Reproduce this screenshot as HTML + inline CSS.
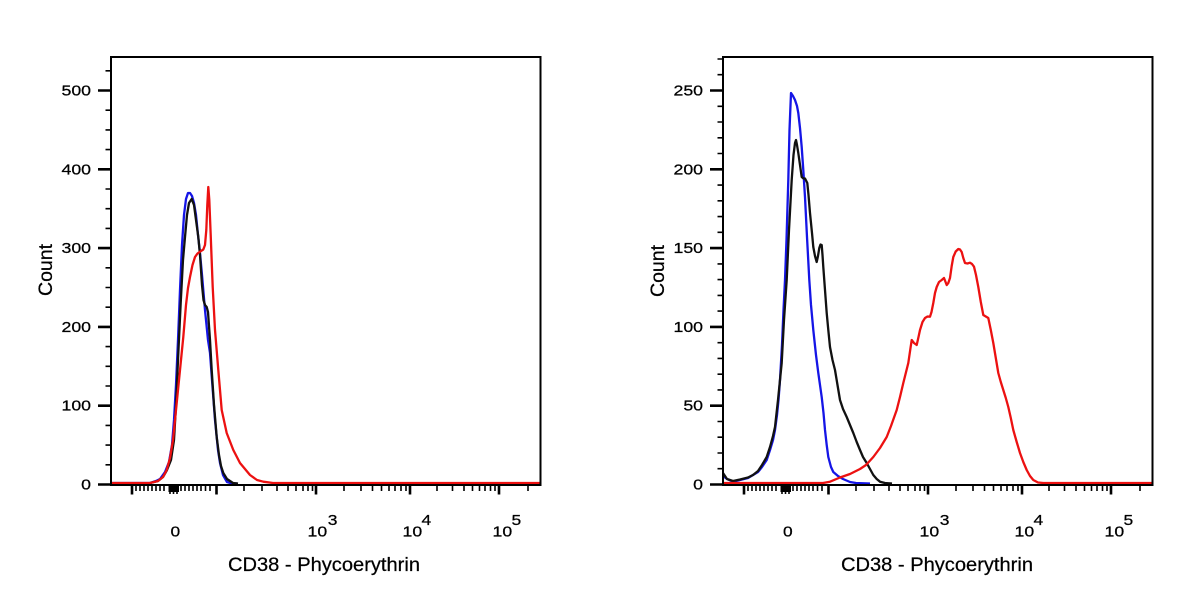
<!DOCTYPE html>
<html>
<head>
<meta charset="utf-8">
<style>
  html, body { margin: 0; padding: 0; background: #ffffff; }
  body { width: 1200px; height: 600px; overflow: hidden; }
  svg { display: block; }
  text { font-family: "Liberation Sans", Arial, sans-serif; fill: #000; stroke: #000; stroke-width: 0.25; }
</style>
</head>
<body>
<svg width="1200" height="600" viewBox="0 0 1200 600" xmlns="http://www.w3.org/2000/svg">
  <rect x="0" y="0" width="1200" height="600" fill="#fff"/>

  <!-- ================= LEFT CHART ================= -->
  <g id="leftchart">
    <!-- curves -->
    <polyline fill="none" stroke="#1515e6" stroke-width="2.3" stroke-linejoin="round"
      points="111,483 150,483 156,481 160,479 165,472 169,462 172,445 174,420 176,385 178,340 180,290 182,245 184,215 186,199 188,193 190,193 192,196 194,203 196,215 198,235 200,253 202,275 205,310 208,340 210,353 212,380 215,420 218,450 220,463 223,475 227,482 232,483.5 237,483.5"/>
    <polyline fill="none" stroke="#111" stroke-width="2.3" stroke-linejoin="round"
      points="150,483 158,481 163,477 167,470 171,460 174,440 176,405 178,360 180.7,303 183,260 185,237 187,215 189,203 191.7,199 194,205 196,220 198.3,237 200,255 202,285 203.5,300 205,305 206.7,307 208,312 210,340 211.7,370 214,405 216.7,437 219,455 221,466 223.3,473 227,479 233,483 238,483.5"/>
    <polyline fill="none" stroke="#ec1111" stroke-width="2.3" stroke-linejoin="round"
      points="111,483 150,483 158,481 163,477 166.7,470 170,458 173,440 176.7,403 180,370 183.3,337 186,305 188,288 190,277 192.5,265 195,257 197.5,253.5 200,251.7 203.3,249.5 205,245 206.3,230 207.3,205 208.3,187 209.3,200 210.7,235 212.7,287 215,330 218.3,370 221.7,410 226.7,433 233.3,450 240,463 250,475 257,480 263.3,481.7 273,483 541,483"/>

    <!-- frame -->
    <path d="M111,56 V486 M110,57 H541.5 M540.5,56 V486 M110,485 H541.5" stroke="#000" stroke-width="2" fill="none"/>

    <!-- y ticks major -->
    <path d="M98,484.5 H111 M98,405.7 H111 M98,326.9 H111 M98,248.1 H111 M98,169.3 H111 M98,90.5 H111" stroke="#000" stroke-width="2.6"/>
    <!-- y ticks minor (every 25) -->
    <path d="M105.5,464.8 H111 M105.5,445.1 H111 M105.5,425.4 H111
             M105.5,386 H111 M105.5,366.3 H111 M105.5,346.6 H111
             M105.5,307.2 H111 M105.5,287.5 H111 M105.5,267.8 H111
             M105.5,228.4 H111 M105.5,208.7 H111 M105.5,189 H111
             M105.5,149.6 H111 M105.5,129.9 H111 M105.5,110.2 H111
             M105.5,70.8 H111" stroke="#000" stroke-width="1.6"/>

    <!-- x ticks minor -->
    <path d="M136,485 V491 M140,485 V491 M144,485 V491 M148,485 V491 M152,485 V491 M156,485 V491 M160,485 V491 M164,485 V491
             M181,485 V491 M185,485 V491 M189,485 V491 M193,485 V491 M197,485 V491 M201,485 V491 M205.5,485 V491 M210,485 V491
             M244,485 V491 M262,485 V491 M277,485 V491 M288,485 V491 M296,485 V491 M303,485 V491 M308,485 V491 M312.5,485 V491
             M344,485 V491 M361,485 V491 M372.5,485 V491 M381.5,485 V491 M389,485 V491 M395,485 V491 M401,485 V491 M406,485 V491
             M437,485 V491 M452.5,485 V491 M464,485 V491 M472.5,485 V491 M479.5,485 V491 M485,485 V491 M490.5,485 V491 M495,485 V491
             M528,485 V491" stroke="#000" stroke-width="1.6"/>
    <!-- zero cluster -->
    <rect x="168.5" y="485" width="10.5" height="7" fill="#000"/>
    <path d="M170,485 V494 M173.5,485 V494 M177,485 V494" stroke="#000" stroke-width="1.6"/>
    <!-- x ticks major -->
    <path d="M132,485 V494.5 M216.5,485 V494.5 M316,485 V494.5 M410,485 V494.5 M499,485 V494.5" stroke="#000" stroke-width="2.6"/>

    <!-- y tick labels -->
    <g font-size="15" text-anchor="end">
      <text transform="translate(91,489.5) scale(1.18,1)">0</text>
      <text transform="translate(91,410.7) scale(1.18,1)">100</text>
      <text transform="translate(91,331.9) scale(1.18,1)">200</text>
      <text transform="translate(91,253.1) scale(1.18,1)">300</text>
      <text transform="translate(91,174.3) scale(1.18,1)">400</text>
      <text transform="translate(91,95.5) scale(1.18,1)">500</text>
    </g>

    <!-- x tick labels -->
    <g font-size="14.5">
      <text transform="translate(175.3,536.5) scale(1.2,1)" text-anchor="middle">0</text>
      <text transform="translate(307.5,536.5) scale(1.22,1)">10</text>
      <text transform="translate(327.8,525) scale(1.2,1)">3</text>
      <text transform="translate(402.5,536.5) scale(1.22,1)">10</text>
      <text transform="translate(421.5,525) scale(1.2,1)">4</text>
      <text transform="translate(492.5,536.5) scale(1.22,1)">10</text>
      <text transform="translate(511.5,525) scale(1.2,1)">5</text>
    </g>

    <!-- axis titles -->
    <text x="228" y="571" font-size="19.5" textLength="192" lengthAdjust="spacingAndGlyphs">CD38 - Phycoerythrin</text>
    <text transform="translate(52,270) rotate(-90)" font-size="19.5" text-anchor="middle">Count</text>
  </g>

  <!-- ================= RIGHT CHART ================= -->
  <g id="rightchart">
    <!-- curves -->
    <polyline fill="none" stroke="#1515e6" stroke-width="2.3" stroke-linejoin="round"
      points="723,476 727,479 733,481.7 740,480 748,478 753,475 758,472 762,467 766.7,460 770,450 773,440 775,430 777,415 778.5,400 780,380 782,345 783.5,310 785,280 786.5,240 788.3,180 789.5,130 791,93 793,96 795,100 797,106 798.3,113 800,128 801.7,147 803.3,170 805,197 807,237 809.3,280 811,305 813.3,330 816,355 818.3,373 820,385 821.7,397 823.5,413 825,430 826.7,445 828.3,457 831,467 833.3,472 838,476 843,479 850,482 856,483 870,483.5"/>
    <polyline fill="none" stroke="#111" stroke-width="2.3" stroke-linejoin="round"
      points="723,473 727,479 733,481 740,479.5 748,477.5 753,475 758,471 762,465 766.7,457 770,447 773,436 775,427 778,400 781.7,363 784,320 786.7,280 789,230 791.7,180 793.5,155 795,143 796,140 797,145 798.3,153 800,165 801.7,177 803.5,178.5 805,178.5 807.3,183 808.5,195 810,213 812,233 813.3,247 815,256 816.7,262 818,256 819.3,248 820.5,244.5 821.7,245 822.5,255 823.3,267 825,290 826.7,313 828.3,330 830,347 832.5,360 835,370 837.5,385 840,400 843,409 846.7,417 850,425 853.3,433 856.7,442 860,450 863,457 866.7,463 870,469 873.3,475 876.7,479 880,481.7 885,483 892,483.5"/>
    <polyline fill="none" stroke="#ec1111" stroke-width="2.3" stroke-linejoin="round"
      points="723,483 823,483 830,481.7 840,477.5 850,474 860,469 866,465 873.3,457 880,448 886.7,437 891,426 896.7,410 900,397 903.3,383 908.3,363 910.5,348 911.7,340 914,343 916.7,345 918.5,337 920,330 922.5,322 925,318 927.5,316.5 930,316.7 931.5,312 933.3,303 935,293 936.7,287 939,282 941.7,280 944,278 946.7,285 948.3,283 950,278 951.7,266 953.3,257 955.7,251.5 958.3,249 960,249.5 961.7,252 963.3,258 965,263 967.5,263.5 970,262.7 972,264 974,266.7 976,275 978.3,287 980.8,302 983.3,315 985.8,316.5 988.3,318 990.8,330 993.3,343 995.8,358 998.3,373 1000.8,382 1003.3,390 1005.8,398 1008.3,407 1010.8,418 1013.3,430 1016.7,442 1020,453 1023.3,462 1026.7,470 1030,476 1033.3,480 1038,482.5 1043.3,483 1153,483"/>

    <!-- frame -->
    <path d="M723,56 V486 M722,57 H1153.5 M1152.5,56 V486 M722,485 H1153.5" stroke="#000" stroke-width="2" fill="none"/>

    <!-- y ticks major (every 50) -->
    <path d="M710,484.5 H723 M710,405.7 H723 M710,326.9 H723 M710,248.1 H723 M710,169.3 H723 M710,90.5 H723" stroke="#000" stroke-width="2.6"/>
    <!-- y ticks minor (every 10) -->
    <path d="M717.5,468.7 H723 M717.5,453 H723 M717.5,437.2 H723 M717.5,421.5 H723
             M717.5,389.9 H723 M717.5,374.2 H723 M717.5,358.4 H723 M717.5,342.7 H723
             M717.5,311.1 H723 M717.5,295.4 H723 M717.5,279.6 H723 M717.5,263.9 H723
             M717.5,232.3 H723 M717.5,216.6 H723 M717.5,200.8 H723 M717.5,185.1 H723
             M717.5,153.5 H723 M717.5,137.8 H723 M717.5,122 H723 M717.5,106.3 H723
             M717.5,74.7 H723 M717.5,59 H723" stroke="#000" stroke-width="1.6"/>

    <!-- x ticks minor -->
    <path d="M748,485 V491 M752,485 V491 M756,485 V491 M760,485 V491 M764,485 V491 M768,485 V491 M772,485 V491 M776,485 V491
             M793,485 V491 M797,485 V491 M801,485 V491 M805,485 V491 M809,485 V491 M813,485 V491 M817.5,485 V491 M822,485 V491
             M856,485 V491 M874,485 V491 M889,485 V491 M900,485 V491 M908,485 V491 M915,485 V491 M920,485 V491 M924.5,485 V491
             M956,485 V491 M973,485 V491 M984.5,485 V491 M993.5,485 V491 M1001,485 V491 M1007,485 V491 M1013,485 V491 M1018,485 V491
             M1049,485 V491 M1064.5,485 V491 M1076,485 V491 M1084.5,485 V491 M1091.5,485 V491 M1097,485 V491 M1102.5,485 V491 M1107,485 V491
             M1140,485 V491" stroke="#000" stroke-width="1.6"/>
    <rect x="780.5" y="485" width="10.5" height="7" fill="#000"/>
    <path d="M782,485 V494 M785.5,485 V494 M789,485 V494" stroke="#000" stroke-width="1.6"/>
    <path d="M744,485 V494.5 M828.5,485 V494.5 M928,485 V494.5 M1022,485 V494.5 M1111,485 V494.5" stroke="#000" stroke-width="2.6"/>

    <!-- y tick labels -->
    <g font-size="15" text-anchor="end">
      <text transform="translate(703,489.5) scale(1.18,1)">0</text>
      <text transform="translate(703,410.7) scale(1.18,1)">50</text>
      <text transform="translate(703,331.9) scale(1.18,1)">100</text>
      <text transform="translate(703,253.1) scale(1.18,1)">150</text>
      <text transform="translate(703,174.3) scale(1.18,1)">200</text>
      <text transform="translate(703,95.5) scale(1.18,1)">250</text>
    </g>

    <!-- x tick labels -->
    <g font-size="14.5">
      <text transform="translate(787.8,536.5) scale(1.2,1)" text-anchor="middle">0</text>
      <text transform="translate(919.5,536.5) scale(1.22,1)">10</text>
      <text transform="translate(939.8,525) scale(1.2,1)">3</text>
      <text transform="translate(1014.5,536.5) scale(1.22,1)">10</text>
      <text transform="translate(1033.5,525) scale(1.2,1)">4</text>
      <text transform="translate(1104.5,536.5) scale(1.22,1)">10</text>
      <text transform="translate(1123.5,525) scale(1.2,1)">5</text>
    </g>

    <!-- axis titles -->
    <text x="841" y="571" font-size="19.5" textLength="192" lengthAdjust="spacingAndGlyphs">CD38 - Phycoerythrin</text>
    <text transform="translate(664,271) rotate(-90)" font-size="19.5" text-anchor="middle">Count</text>
  </g>
</svg>
</body>
</html>
